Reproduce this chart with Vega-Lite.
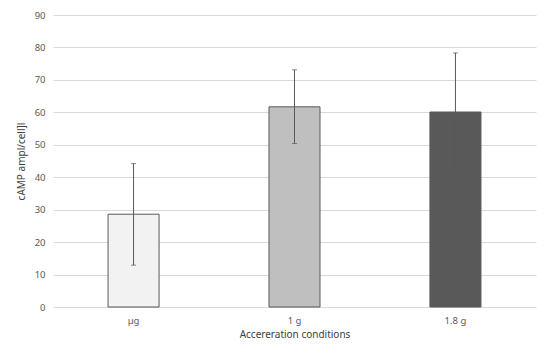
{
  "$schema": "https://vega.github.io/schema/vega-lite/v6.json",
  "width": 483,
  "height": 292,
  "autosize": {"type": "none"},
  "padding": {"left": 53, "top": 15, "right": 14, "bottom": 51},
  "background": "white",
  "config": {
    "view": {"stroke": null},
    "font": "Noto Sans",
    "axis": {"labelColor": "#595959", "titleColor": "#404040", "labelFontSize": 9.5, "titleFontSize": 10, "titleFontWeight": "normal"},
    "axisY": {"values": [0,10,20,30,40,50,60,70,80,90], "domain": false, "ticks": false, "gridColor": "#d9d9d9", "gridWidth": 1, "labelPadding": 8, "titlePadding": 8}
  },
  "data": {"values": [
    {"cond": "µg", "mean": 28.6, "lo": 12.9, "hi": 44.2, "fill": "#f2f2f2"},
    {"cond": "1 g", "mean": 61.7, "lo": 50.4, "hi": 73.1, "fill": "#bfbfbf"},
    {"cond": "1.8 g", "mean": 60.1, "lo": 41.9, "hi": 78.3, "fill": "#595959"}
  ]},
  "encoding": {
    "x": {"field": "cond", "type": "nominal", "sort": null,
      "scale": {"paddingInner": 0.683, "paddingOuter": 0.342},
      "axis": {"title": "Accereration conditions", "labelAngle": 0, "domain": false, "ticks": false, "labelPadding": 8, "titlePadding": 5}}
  },
  "layer": [
    {
      "mark": {"type": "bar", "stroke": "#595959", "strokeWidth": 1},
      "encoding": {
        "y": {"field": "mean", "type": "quantitative",
          "scale": {"domain": [0, 90], "nice": false},
          "axis": {"title": "cAMP ampl/cell]l", "values": [0,10,20,30,40,50,60,70,80,90]}},
        "fill": {"field": "fill", "type": "nominal", "scale": null}
      }
    },
    {
      "mark": {"type": "rule", "color": "#595959", "strokeWidth": 1},
      "encoding": {"y": {"field": "lo", "type": "quantitative", "axis": {"title": "cAMP ampl/cell]l", "values": [0,10,20,30,40,50,60,70,80,90]}}, "y2": {"field": "hi"}}
    },
    {
      "mark": {"type": "tick", "color": "#595959", "size": 5, "thickness": 1},
      "encoding": {"y": {"field": "lo", "type": "quantitative", "axis": {"title": "cAMP ampl/cell]l", "values": [0,10,20,30,40,50,60,70,80,90]}}}
    },
    {
      "mark": {"type": "tick", "color": "#595959", "size": 5, "thickness": 1},
      "encoding": {"y": {"field": "hi", "type": "quantitative", "axis": {"title": "cAMP ampl/cell]l", "values": [0,10,20,30,40,50,60,70,80,90]}}}
    }
  ]
}
